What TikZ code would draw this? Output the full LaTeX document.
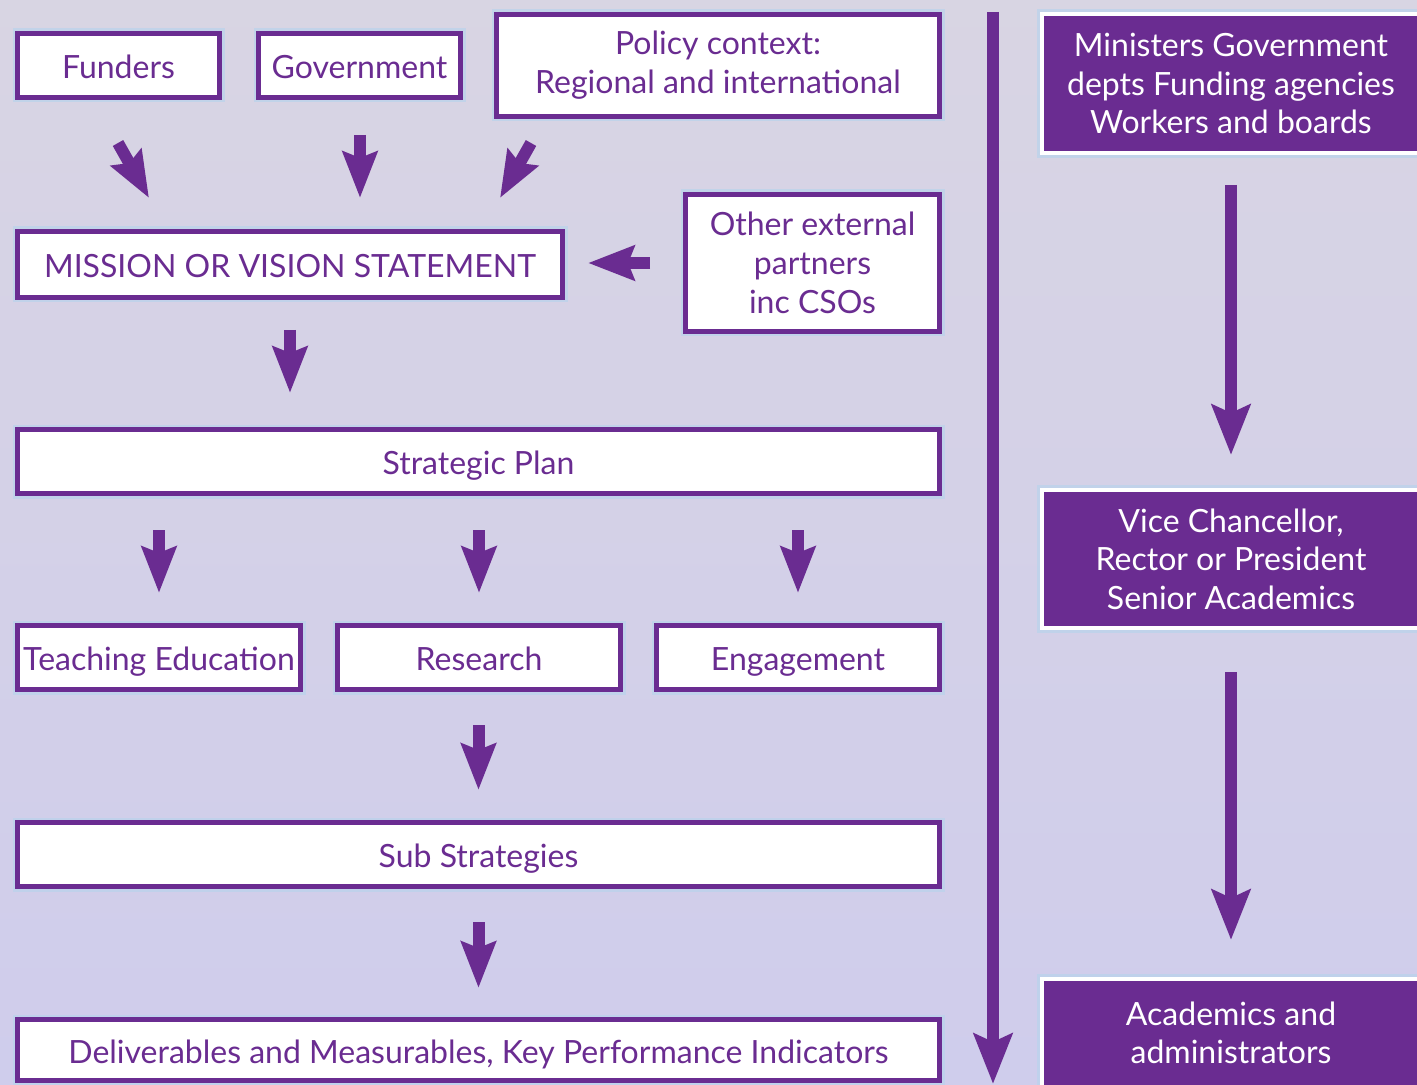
\documentclass[tikz,border=0pt]{standalone}
\usepackage{fontspec}
\setmainfont{Lato}
\usepackage{xcolor}
\usepackage{tikz}
\usetikzlibrary{calc,arrows.meta}
\definecolor{plum}{HTML}{6A2C91}
\definecolor{backdrop}{HTML}{D4D0E0}
\definecolor{glow}{HTML}{B9D3EC}
\tikzset{
  box/.style={draw=plum, line width=2.5pt, fill=white, text=plum, inner sep=0pt, align=center,
    font=\fontsize{16}{19.5}\selectfont, preaction={draw=glow, line width=5pt, opacity=0.7}},
  onebox/.style={box, text height=13pt, text depth=0pt},
  rolebox/.style={draw=white, line width=2pt, fill=plum, text=white, inner sep=0pt, align=center,
    font=\fontsize{16}{19.3}\selectfont, preaction={draw=glow, line width=5pt, opacity=0.7}},
  blk/.style={draw=plum, line width=6pt, -{Stealth[length=23pt,width=17pt,inset=3pt]}},
  longline/.style={draw=plum, line width=6pt, -{Stealth[length=25pt,width=19pt,inset=4pt]}},
}

\begin{document}
\begin{tikzpicture}[x=0.5pt,y=-0.5pt]
  \useasboundingbox (0,0) rectangle (1417,1085);
  \fill[top color=backdrop!90!white, bottom color=backdrop!88!blue!70!white] (0,0) rectangle (1417,1085);

  % left column
  \node[onebox, minimum width=101pt, minimum height=32pt] (funders) at (118.5,65.5) {Funders};
  \node[onebox, minimum width=101pt, minimum height=32pt] (gov) at (359.5,65.5) {Government};
  \node[box, minimum width=221.5pt, minimum height=51pt] (policy) at (718,65.5) {Policy context:\\Regional and international};
  \node[onebox, minimum width=272.5pt, minimum height=33pt] (mission) at (290,264.5) {MISSION OR VISION STATEMENT};
  \node[box, minimum width=127pt, minimum height=68.5pt] (other) at (812.5,263) {Other external\\partners\\inc CSOs};
  \node[onebox, minimum width=461pt, minimum height=32pt] (plan) at (478.5,461.5) {Strategic Plan};
  \node[onebox, minimum width=141.5pt, minimum height=32pt] (teach) at (159,657.5) {Teaching Education};
  \node[onebox, minimum width=141.5pt, minimum height=32pt] (research) at (479,657.5) {Research};
  \node[onebox, minimum width=141.5pt, minimum height=32pt] (engage) at (798,657.5) {Engagement};
  \node[onebox, minimum width=461pt, minimum height=32pt] (sub) at (478.5,854.5) {Sub Strategies};
  \node[onebox, minimum width=461pt, minimum height=30.5pt] (kpi) at (478.5,1050) {Deliverables and Measurables, Key Performance Indicators};

  % right column
  \node[rolebox, minimum width=189pt, minimum height=69.5pt] (ministers) at (1231,83.5) {Ministers Government\\depts Funding agencies\\Workers and boards};
  \node[rolebox, minimum width=189pt, minimum height=69pt] (vc) at (1231,559) {Vice Chancellor,\\Rector or President\\Senior Academics};
  \node[rolebox, minimum width=189pt, minimum height=54pt] (academics) at (1231,1033) {Academics and\\administrators};

  % arrows
  \draw[blk] ($(funders.south)+(-0.5,43)$) -- ($(funders.south)+(30.5,98)$);
  \draw[blk] ($(gov.south)+(0.5,35)$) -- ($(gov.south)+(0.5,98)$);
  \draw[blk] ($(policy.south)+(-187,24)$) -- ($(policy.south)+(-218,79)$);
  \draw[blk] ($(other.west)+(-33,0)$) -- ($(other.west)+(-95,0)$);
  \draw[blk] ($(mission.south)+(0,30)$) -- ($(mission.south)+(0,93)$);
  \foreach \n in {teach,research,engage}
    \draw[blk] ($(\n.north)+(0,-93)$) -- ($(\n.north)+(0,-30)$);
  \draw[blk] ($(sub.north)+(0,-95)$) -- ($(sub.north)+(0,-30)$);
  \draw[blk] ($(kpi.north)+(0,-95)$) -- ($(kpi.north)+(0,-29)$);

  \coordinate (railtop) at (993,12);
  \coordinate (railend) at (993,1084);
  \draw[longline] (railtop) -- (railend);
  \draw[longline] ($(ministers.south)+(0,30)$) -- ($(ministers.south)+(0,300)$);
  \draw[longline] ($(vc.south)+(0,42)$) -- ($(vc.south)+(0,310)$);
\end{tikzpicture}
\end{document}
